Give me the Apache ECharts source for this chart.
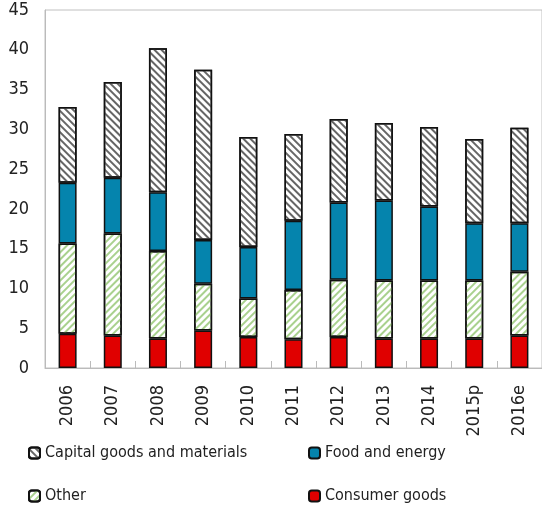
<!DOCTYPE html>
<html>
<head>
<meta charset="utf-8">
<script src="https://cdn.jsdelivr.net/npm/echarts@6/dist/echarts.min.js"></script>
<style>html,body{margin:0;padding:0;background:#fff}#c{width:542px;height:506px}</style>
</head>
<body>
<div id="c"></div>
<script>
var categories = ['2006','2007','2008','2009','2010','2011','2012','2013','2014','2015p','2016e'];
var consumerGoods = [4.3, 4.1, 3.7, 4.7, 3.9, 3.6, 3.9, 3.7, 3.7, 3.7, 4.1];
var other = [11.35, 12.8, 11.0, 5.9, 4.85, 6.2, 7.2, 7.3, 7.3, 7.3, 8.0];
var foodEnergy = [7.65, 7.0, 7.4, 5.5, 6.45, 8.7, 9.7, 10.05, 9.3, 7.2, 6.1];
var capitalGoods = [9.5, 12.05, 18.1, 21.4, 13.85, 10.9, 10.5, 9.75, 10.0, 10.6, 12.0];
var yTicks = [0, 5, 10, 15, 20, 25, 30, 35, 40, 45];

var FONT = "'DejaVu Sans Condensed', sans-serif";
var chart = echarts.init(document.getElementById('c'), null, {renderer: 'canvas'});

var border = {borderColor: '#111', borderWidth: 1.5};
function legendAt(name, left, top) {
  return {
    data: [name], left: left, top: top, padding: 0,
    itemWidth: 11, itemHeight: 11, itemGap: 0,
    textStyle: {fontFamily: FONT, fontSize: 16, color: '#222', lineHeight: 18},
    selectedMode: false
  };
}

chart.setOption({
  animation: false,
  backgroundColor: '#fff',
  grid: {left: 45, top: 10, width: 499, height: 358, show: true, borderColor: '#c0c0c0', borderWidth: 1, containLabel: false},
  legend: [
    legendAt('Capital goods and materials', 28, 444),
    legendAt('Food and energy', 308, 444),
    legendAt('Other', 28, 487),
    legendAt('Consumer goods', 308, 487)
  ],
  xAxis: {
    type: 'category', data: categories,
    axisLine: {lineStyle: {color: '#bbb', width: 1}},
    axisTick: {show: true, inside: true, length: 7, lineStyle: {color: '#bbb'}},
    axisLabel: {rotate: 90, margin: 17, fontFamily: FONT, fontSize: 18, color: '#222'}
  },
  yAxis: {
    type: 'value', min: yTicks[0], max: yTicks[yTicks.length - 1], interval: 5,
    axisLine: {show: true, lineStyle: {color: '#bbb'}},
    axisTick: {show: false},
    splitLine: {show: false},
    axisLabel: {margin: 16, fontFamily: FONT, fontSize: 18, color: '#222'}
  },
  series: [
    {name: 'Consumer goods', type: 'bar', stack: 't', barWidth: 18, data: consumerGoods,
     itemStyle: Object.assign({color: '#e00000'}, border)},
    {name: 'Other', type: 'bar', stack: 't', barWidth: 18, data: other,
     itemStyle: Object.assign({color: '#ffffff', decal: {symbol: 'rect', color: '#a9d18e', dashArrayX: [1, 0], dashArrayY: [1.5, 3], rotation: -Math.PI / 4}}, border)},
    {name: 'Food and energy', type: 'bar', stack: 't', barWidth: 18, data: foodEnergy,
     itemStyle: Object.assign({color: '#0584ad'}, border)},
    {name: 'Capital goods and materials', type: 'bar', stack: 't', barWidth: 18, data: capitalGoods,
     itemStyle: Object.assign({color: '#ffffff', decal: {symbol: 'rect', color: '#666666', dashArrayX: [1, 0], dashArrayY: [1.5, 3], rotation: Math.PI / 4}}, border)}
  ]
});
</script>
</body>
</html>
